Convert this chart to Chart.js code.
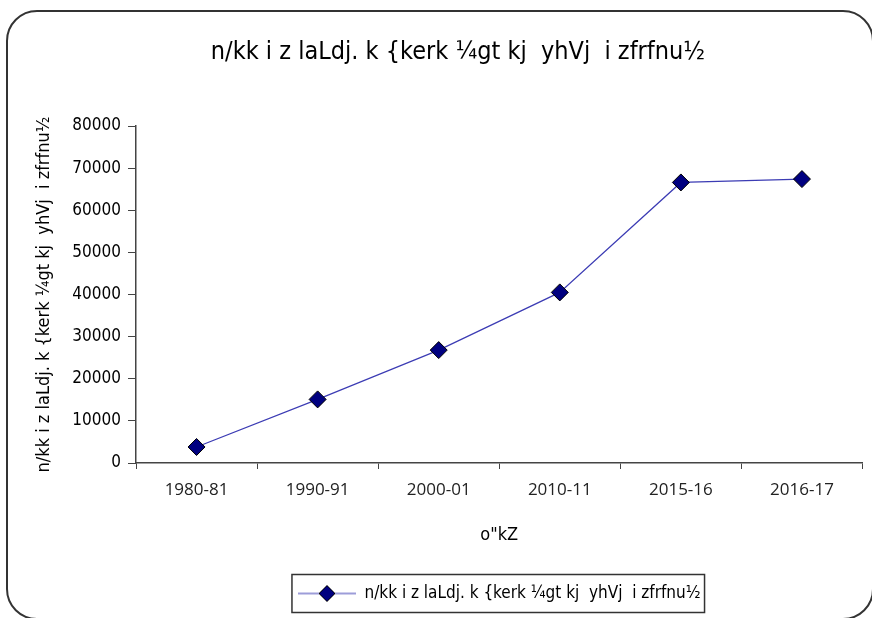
<!DOCTYPE html>
<html>
<head>
<meta charset="utf-8">
<script src="https://cdn.jsdelivr.net/npm/chart.js@4.4.1/dist/chart.umd.min.js"></script>
<style>
  body { margin: 0; background: #fff; }
  #wrap { width: 872px; height: 618px; }
</style>
</head>
<body>
<div id="wrap"><canvas id="chart"></canvas></div>
<script>
// data
const years = ["1980-81", "1990-91", "2000-01", "2010-11", "2015-16", "2016-17"]
const capacity = [3800, 15100, 26800, 40500, 66600, 67400]
const yTicks = [0, 10000, 20000, 30000, 40000, 50000, 60000, 70000, 80000]

const titleText = "      n/kk i z laLdj. k {kerk ¼gt kj  yhVj  i zfrfnu½"
const seriesName = "n/kk i z laLdj. k {kerk ¼gt kj  yhVj  i zfrfnu½"
const yTitle = "n/kk i z laLdj. k {kerk ¼gt kj  yhVj  i zfrfnu½"
const xTitle = 'o"kZ'

const narrow = '"DejaVu Sans Condensed", "Liberation Sans Narrow", sans-serif'

// legend marker: line with a diamond in the middle
const marker = document.createElement("canvas")
marker.width = 58
marker.height = 20
const mc = marker.getContext("2d")
mc.strokeStyle = "#3c3cb4"
mc.lineWidth = 1.2
mc.beginPath()
mc.moveTo(0, 10)
mc.lineTo(58, 10)
mc.stroke()
mc.fillStyle = "#000080"
mc.strokeStyle = "#000"
mc.lineWidth = 1
mc.beginPath()
mc.moveTo(29, 2)
mc.lineTo(37, 10)
mc.lineTo(29, 18)
mc.lineTo(21, 10)
mc.closePath()
mc.fill()
mc.stroke()

const frame = {
  id: "frame",
  beforeDraw: (chart) => {
    const ctx = chart.ctx
    ctx.save()
    ctx.fillStyle = "#fff"
    ctx.fillRect(0, 0, chart.width, chart.height)
    ctx.restore()
  },
  afterDraw: (chart) => {
    const ctx = chart.ctx
    ctx.save()
    // rounded outer border
    ctx.strokeStyle = "#333"
    ctx.lineWidth = 2
    ctx.beginPath()
    ctx.roundRect(7, 11, 866, 608, 30)
    ctx.stroke()
    // box round the legend
    const hb = chart.legend.legendHitBoxes[0]
    if (hb) {
      const cy = hb.top + hb.height / 2
      ctx.strokeStyle = "#333"
      ctx.lineWidth = 1.5
      ctx.strokeRect(hb.left - 6, cy - 19, hb.width + 10, 38)
    }
    ctx.restore()
  }
}

new Chart(document.getElementById("chart"), {
  type: "line",
  data: {
    labels: years,
    datasets: [{
      label: seriesName,
      data: capacity,
      borderColor: "#3c3cb4",
      borderWidth: 1.2,
      backgroundColor: "#000080",
      pointStyle: "rectRot",
      pointRadius: 8.5,
      pointHoverRadius: 8.5,
      pointBackgroundColor: "#000080",
      pointBorderColor: "#000",
      pointBorderWidth: 1,
      tension: 0
    }]
  },
  options: {
    responsive: true,
    maintainAspectRatio: false,
    animation: false,
    layout: { padding: { left: 6, right: 5, top: 0, bottom: 6 } },
    plugins: {
      tooltip: { enabled: false },
      title: {
        display: true,
        text: titleText,
        color: "#000",
        font: { family: narrow, size: 25, weight: "normal" },
        padding: { top: 37, bottom: 59 }
      },
      legend: {
        position: "bottom",
        fullSize: false,
        labels: {
          color: "#000",
          font: { family: narrow, size: 17 },
          usePointStyle: true,
          pointStyleWidth: 58,
          padding: 10,
          generateLabels: (chart) => {
            const items = Chart.defaults.plugins.legend.labels.generateLabels(chart)
            items.forEach(it => { it.pointStyle = marker; it.lineWidth = 0 })
            return items
          }
        }
      }
    },
    scales: {
      x: {
        offset: true,
        grid: { display: true, offset: true, drawOnChartArea: false, drawTicks: true, tickLength: 6, color: "#444" },
        border: { color: "#444", width: 1.5 },
        ticks: { color: "#222", font: { family: "Open Sans", size: 17 }, padding: 11, maxRotation: 0 },
        title: { display: true, text: xTitle, color: "#000", font: { family: narrow, size: 18 }, padding: { top: 10, bottom: 29 } },
        afterFit: (scale) => { scale.height = 112 }
      },
      y: {
        min: 0,
        max: 80000,
        afterBuildTicks: (scale) => { scale.ticks = yTicks.map(v => ({ value: v })) },
        grid: { drawOnChartArea: false, drawTicks: true, tickLength: 8, color: "#444" },
        border: { color: "#444", width: 1.5 },
        ticks: { color: "#000", font: { family: narrow, size: 17 }, padding: 7, callback: (v) => String(v) },
        title: { display: true, text: yTitle, color: "#000", font: { family: narrow, size: 18 }, padding: { top: 28 } },
        afterFit: (scale) => { scale.width = 130 }
      }
    }
  },
  plugins: [frame]
})
</script>
</body>
</html>
